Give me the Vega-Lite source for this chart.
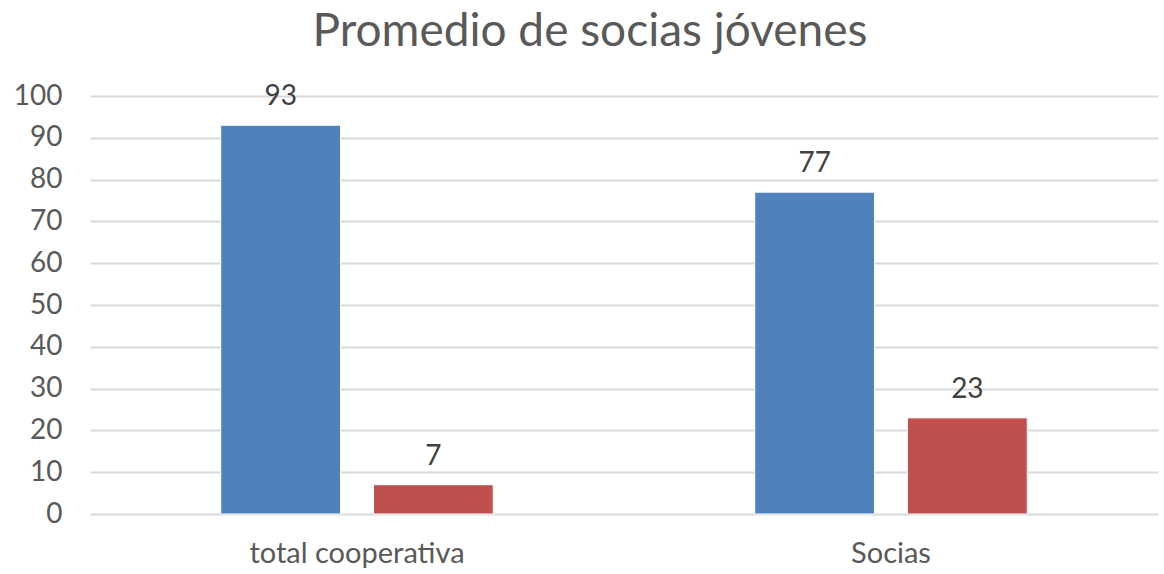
{
  "$schema": "https://vega.github.io/schema/vega-lite/v6.json",
  "autosize": {"type": "none"},
  "width": 1068,
  "height": 418,
  "padding": {"left": 90, "top": 96, "right": 6, "bottom": 60},
  "background": "white",
  "title": {
    "text": "Promedio de socias jóvenes",
    "font": "Lato",
    "fontSize": 46,
    "fontWeight": "normal",
    "color": "#595959",
    "anchor": "middle",
    "dx": -34,
    "offset": 26
  },
  "config": {
    "view": {"stroke": null},
    "font": "Lato"
  },
  "data": {
    "values": [
      {"categoria": "total cooperativa", "serie": "A", "valor": 93},
      {"categoria": "total cooperativa", "serie": "B", "valor": 7},
      {"categoria": "Socias", "serie": "A", "valor": 77},
      {"categoria": "Socias", "serie": "B", "valor": 23}
    ]
  },
  "encoding": {
    "x": {
      "field": "categoria",
      "type": "nominal",
      "sort": ["total cooperativa", "Socias"],
      "scale": {"paddingInner": 0, "paddingOuter": 0},
      "axis": {
        "title": null,
        "labelAngle": 0,
        "labelFont": "Lato",
        "labelFontSize": 29,
        "labelColor": "#595959",
        "labelPadding": 25,
        "labelLimit": 0,
        "domain": false,
        "ticks": false,
        "grid": false
      }
    },
    "xOffset": {
      "field": "serie",
      "type": "nominal",
      "scale": {"paddingInner": 0.2157, "paddingOuter": 0.856}
    },
    "y": {
      "field": "valor",
      "type": "quantitative",
      "scale": {"domain": [0, 100], "nice": false},
      "axis": {
        "title": null,
        "values": [0, 10, 20, 30, 40, 50, 60, 70, 80, 90, 100],
        "labelFont": "Lato",
        "labelFontSize": 28,
        "labelColor": "#595959",
        "labelPadding": 28,
        "domain": false,
        "ticks": false,
        "grid": true,
        "gridColor": "#d9d9d9",
        "gridWidth": 2
      }
    }
  },
  "layer": [
    {
      "mark": {"type": "bar", "stroke": "white", "strokeWidth": 1},
      "encoding": {
        "color": {
          "field": "serie",
          "type": "nominal",
          "scale": {"domain": ["A", "B"], "range": ["#4F81BD", "#C0504D"]},
          "legend": null
        }
      }
    },
    {
      "mark": {
        "type": "text",
        "baseline": "bottom",
        "dy": -14,
        "font": "Lato",
        "fontSize": 28,
        "color": "#404040"
      },
      "encoding": {
        "text": {"field": "valor", "type": "quantitative"}
      }
    }
  ]
}
